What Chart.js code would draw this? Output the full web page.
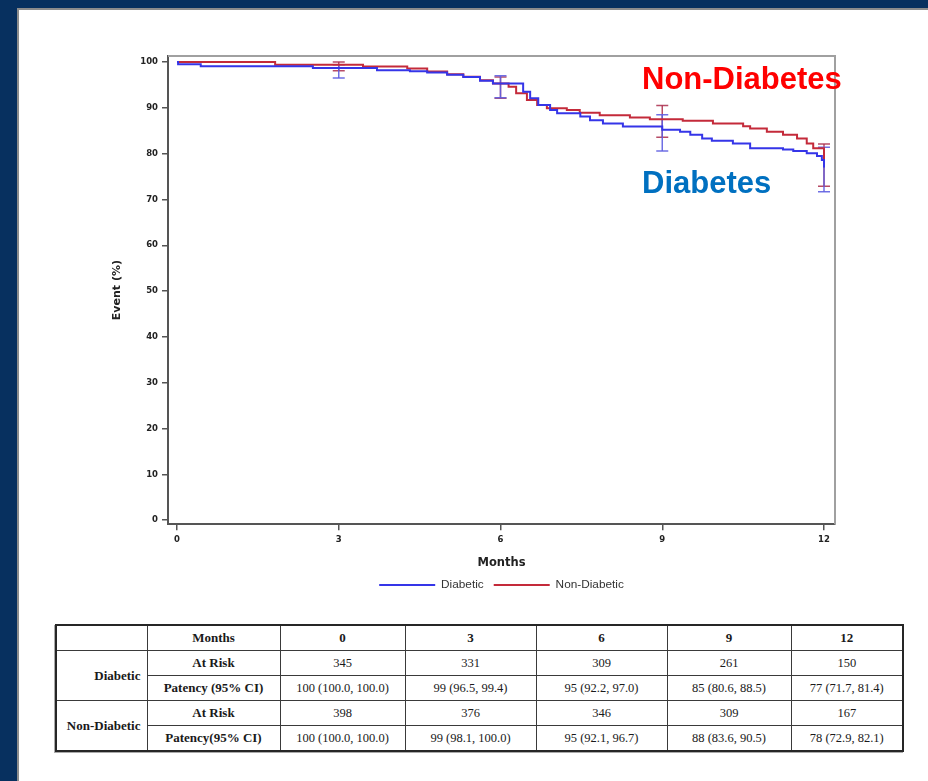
<!DOCTYPE html>
<html>
<head>
<meta charset="utf-8">
<script src="https://cdn.jsdelivr.net/npm/chart.js@4.4.1/dist/chart.umd.min.js"></script>
<style>
  html, body { margin: 0; padding: 0; background: #fff; }
  #page { position: relative; width: 928px; height: 781px; overflow: hidden; background: #fff; }
  #edgeLeft { position: absolute; left: 0; top: 0; width: 17px; height: 781px; background: #07305f; }
  #edgeTop { position: absolute; left: 0; top: 0; width: 928px; height: 8px; background: #07305f; }
  #shadeLeft { position: absolute; left: 17px; top: 8px; width: 2px; height: 773px; background: #8c8c8c; }
  #shadeTop { position: absolute; left: 17px; top: 8px; width: 911px; height: 2px; background: #8c8c8c; }
  #plot { position: absolute; left: 0; top: 0; width: 928px; height: 604px; }
  .tag { position: absolute; font-family: "Liberation Sans", Arial, sans-serif; font-weight: bold;
         font-size: 31px; line-height: 31px; white-space: nowrap; }
  #risk { position: absolute; left: 55px; top: 624px; width: 847px; table-layout: fixed;
          border-collapse: collapse; font-family: "Liberation Serif", "Times New Roman", serif;
          font-size: 12.5px; color: #1a1a1a; border: 2px solid #262626; box-shadow: -1px 1px 0 #aaa; }
  #risk td, #risk th { border: 1.5px solid #3a3a3a; height: 24px; padding: 0 4px; text-align: center;
                       white-space: nowrap; overflow: hidden; }
  #risk th { font-weight: bold; font-size: 13px; }
  #risk th.grp { text-align: right; padding-right: 6px; }
</style>
</head>
<body>
<div id="page">
  <div id="edgeLeft"></div>
  <div id="edgeTop"></div>
  <div id="shadeLeft"></div>
  <div id="shadeTop"></div>
  <div id="plot"><canvas id="km" width="928" height="604"></canvas></div>
  <div class="tag" style="left:642px; top:63px; color:#ff0000;">Non-Diabetes</div>
  <div class="tag" style="left:642px; top:167px; color:#0070c0;">Diabetes</div>
  <table id="risk"></table>
</div>
<script>
// Time points of the summary table (months)
const months = [0, 3, 6, 9, 12];
const yTickValues = [0, 10, 20, 30, 40, 50, 60, 70, 80, 90, 100];

// Kaplan-Meier step points: time (months) and patency (%) after each drop
const diabeticTime = [0, 0.02, 0.44, 2.52, 3.71, 4.32, 4.64, 5.01, 5.31, 5.62, 5.86, 6.42, 6.55, 6.70, 6.92,
  7.05, 7.48, 7.66, 7.90, 8.27, 9.00, 9.33, 9.52, 9.74, 9.92, 10.31, 10.63, 11.24, 11.43, 11.68,
  11.87, 11.96, 12.0];
const diabeticPatency = [100, 99.5, 99.05, 98.7, 98.2, 98.0, 97.7, 97.2, 96.7, 95.9, 95.3, 93.5, 92.1, 90.6, 89.5,
  88.8, 88.1, 87.3, 86.6, 85.9, 85.2, 84.8, 84.1, 83.3, 82.8, 82.2, 81.2, 80.9, 80.6, 80.1,
  79.5, 78.6, 77.0];

const nonDiabeticTime = [0, 1.82, 3.45, 4.27, 4.64, 5.01, 5.31, 5.62, 5.86, 6.15, 6.29, 6.49, 6.68, 6.86,
  7.23, 7.47, 7.84, 8.40, 8.77, 9.38, 9.94, 10.50, 10.63, 10.94, 11.24, 11.50, 11.68, 11.80, 12.0];
const nonDiabeticPatency = [100, 99.4, 99.0, 98.6, 97.9, 97.3, 96.8, 96.0, 95.3, 94.6, 93.2, 91.7, 90.6, 89.9,
  89.5, 88.9, 88.4, 87.9, 87.5, 87.2, 86.6, 86.0, 85.5, 84.8, 84.1, 83.3, 82.2, 81.2, 78.0];

// Summary table: numbers at risk, patency and 95% CI at each time point
const atRiskDiabetic = [345, 331, 309, 261, 150];
const patencyDiabetic = [100, 99, 95, 85, 77];
const ciLowDiabetic = [100.0, 96.5, 92.2, 80.6, 71.7];
const ciHighDiabetic = [100.0, 99.4, 97.0, 88.5, 81.4];

const atRiskNonDiabetic = [398, 376, 346, 309, 167];
const patencyNonDiabetic = [100, 99, 95, 88, 78];
const ciLowNonDiabetic = [100.0, 98.1, 92.1, 83.6, 72.9];
const ciHighNonDiabetic = [100.0, 100.0, 96.7, 90.5, 82.1];

const BLUE = '#3535e8';
const RED = '#c42a3a';

function steps(times, values) {
  return times.map((t, i) => ({ x: t, y: values[i] }));
}
// vertical CI segments at months 3, 6, 9 and 12, separated by gaps
function ciBars(lo, hi) {
  const pts = [];
  months.forEach((m, i) => {
    if (i === 0) return;
    pts.push({ x: m, y: lo[i] }, { x: m, y: hi[i] }, { x: m, y: null });
  });
  return pts;
}

// light frame on the top and right of the plot area
const plotFrame = {
  id: 'plotFrame',
  afterDraw(chart) {
    const { ctx, chartArea: a } = chart;
    ctx.save();
    ctx.strokeStyle = '#a0a0a0';
    ctx.lineWidth = 2;
    ctx.beginPath();
    ctx.moveTo(a.left, a.top);
    ctx.lineTo(a.right, a.top);
    ctx.lineTo(a.right, a.bottom);
    ctx.stroke();
    ctx.restore();
  }
};

const tickFont = { family: 'DejaVu Sans', weight: 'bold', size: 8.5 };

new Chart(document.getElementById('km'), {
  type: 'line',
  data: {
    datasets: [
      { label: 'Diabetic', data: steps(diabeticTime, diabeticPatency), stepped: true,
        borderColor: BLUE, backgroundColor: BLUE, borderWidth: 2, pointRadius: 0 },
      { label: 'Non-Diabetic', data: steps(nonDiabeticTime, nonDiabeticPatency), stepped: true,
        borderColor: RED, backgroundColor: RED, borderWidth: 2, pointRadius: 0 },
      { label: 'Diabetic CI', data: ciBars(ciLowDiabetic, ciHighDiabetic), spanGaps: false,
        borderColor: 'rgba(95,95,225,0.9)', borderWidth: 1.5, pointStyle: 'line', pointRadius: 6,
        pointBorderColor: 'rgba(95,95,225,0.9)', pointBorderWidth: 1.5 },
      { label: 'Non-Diabetic CI', data: ciBars(ciLowNonDiabetic, ciHighNonDiabetic), spanGaps: false,
        borderColor: 'rgba(170,45,75,0.85)', borderWidth: 1.5, pointStyle: 'line', pointRadius: 6,
        pointBorderColor: 'rgba(170,45,75,0.85)', pointBorderWidth: 1.5 }
    ]
  },
  options: {
    responsive: false,
    animation: false,
    events: [],
    layout: { padding: { left: 105, top: 56, right: 93, bottom: 3 } },
    scales: {
      x: {
        type: 'linear', min: -0.167, max: 12.204,
        afterBuildTicks: s => { s.ticks = months.map(v => ({ value: v })); },
        afterFit: s => { s.height = 45; },
        grid: { display: true, drawOnChartArea: false, drawTicks: true, tickLength: 6, color: '#555', lineWidth: 1.5 },
        border: { display: true, color: '#555', width: 2 },
        ticks: { font: tickFont, color: '#222', padding: 4, maxRotation: 0, autoSkip: false },
        title: { display: true, text: 'Months', color: '#222', padding: { top: 0, bottom: -1 },
                 font: { family: 'DejaVu Sans', weight: 'bold', size: 11.5 } }
      },
      y: {
        type: 'linear', min: -0.873, max: 101.31,
        afterBuildTicks: s => { s.ticks = yTickValues.map(v => ({ value: v })); },
        afterFit: s => { s.width = 63; },
        grid: { display: true, drawOnChartArea: false, drawTicks: true, tickLength: 6, color: '#555', lineWidth: 1.5 },
        border: { display: true, color: '#555', width: 2 },
        ticks: { font: tickFont, color: '#222', padding: 4, autoSkip: false },
        title: { display: true, text: 'Event (%)', color: '#222', padding: { top: 6, bottom: 0 },
                 font: { family: 'DejaVu Sans', weight: 'bold', size: 11 } }
      }
    },
    plugins: {
      tooltip: { enabled: false },
      legend: {
        position: 'bottom',
        fullSize: false,
        labels: {
          filter: item => item.datasetIndex < 2,
          boxWidth: 56, boxHeight: 2, padding: 10, color: '#333',
          font: { family: 'Liberation Sans', size: 11.8 },
          generateLabels: chart => Chart.defaults.plugins.legend.labels.generateLabels(chart)
            .map(l => Object.assign(l, { lineWidth: 0 }))
        }
      }
    }
  },
  plugins: [plotFrame]
});

// summary table built from the arrays above
(function buildTable() {
  const widths = [91, 133, 125, 131, 131, 124, 112];
  const fmt = (est, lo, hi) => `${est} (${lo.toFixed(1)}, ${hi.toFixed(1)})`;
  let html = '<colgroup>' + widths.map(w => `<col style="width:${w}px">`).join('') + '</colgroup>';
  html += '<tr><td></td><th>Months</th>' + months.map(m => `<th>${m}</th>`).join('') + '</tr>';
  const groups = [
    ['Diabetic', 'Patency (95% CI)', atRiskDiabetic, patencyDiabetic, ciLowDiabetic, ciHighDiabetic],
    ['Non-Diabetic', 'Patency(95% CI)', atRiskNonDiabetic, patencyNonDiabetic, ciLowNonDiabetic, ciHighNonDiabetic]
  ];
  groups.forEach(([name, patLabel, risk, est, lo, hi]) => {
    html += `<tr><th class="grp" rowspan="2">${name}</th><th>At Risk</th>` +
            risk.map(r => `<td>${r}</td>`).join('') + '</tr>';
    html += `<tr><th>${patLabel}</th>` +
            est.map((e, i) => `<td>${fmt(e, lo[i], hi[i])}</td>`).join('') + '</tr>';
  });
  document.getElementById('risk').innerHTML = html;
})();
</script>
</body>
</html>
